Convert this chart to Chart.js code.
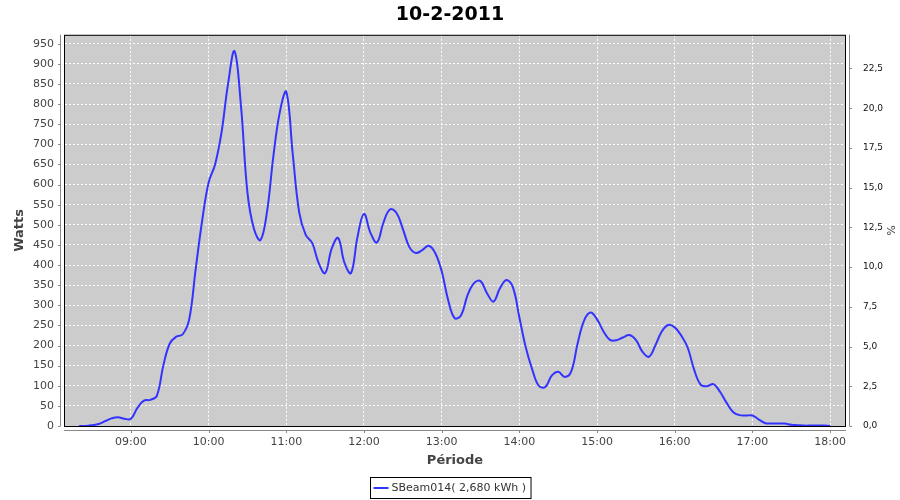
<!DOCTYPE html>
<html lang="fr">
<head>
    <meta charset="UTF-8">
    <title>10-2-2011</title>
    <script src="https://cdn.jsdelivr.net/npm/chart.js"></script>
    <style>
        html, body { margin: 0; padding: 0; background: #ffffff; }
        .chart-container { width: 900px; height: 500px; position: relative; }
    </style>
</head>
<body>
    <div class="chart-container">
        <canvas id="powerChart"></canvas>
    </div>

    <script>
        // minutes depuis minuit, toutes les 5 minutes de 08:20 a 18:00
        const minutes = [];
        for (let m = 500; m <= 1080; m += 5) minutes.push(m);

        const watts = [
            0, 0, 2, 5, 12, 19, 22, 18, 18, 45, 63, 65,
            75, 150, 205, 222, 228, 265, 390, 510, 605, 650, 730, 850,
            931, 795, 580, 490, 462, 530, 670, 780, 830, 675, 530, 475,
            455, 405, 380, 440, 467, 405, 380, 470, 527, 480, 456, 505,
            538, 530, 490, 445, 430, 437, 448, 430, 385, 313, 268, 275,
            325, 355, 360, 330, 309, 342, 363, 345, 270, 195, 140, 100,
            97, 125, 135, 122, 135, 205, 262, 282, 265, 235, 214, 213,
            220, 226, 214, 185, 172, 200, 235, 251, 245, 225, 195, 140,
            103, 99, 104, 85, 58, 35, 27, 26, 26, 16, 7, 6,
            6, 6, 3, 2, 1, 1, 1, 1, 0
        ];

        const hourTicks = [540, 600, 660, 720, 780, 840, 900, 960, 1020, 1080];
        const wattTicks = [0, 50, 100, 150, 200, 250, 300, 350, 400, 450, 500,
            550, 600, 650, 700, 750, 800, 850, 900, 950];
        const percentTicks = [0, 2.5, 5, 7.5, 10, 12.5, 15, 17.5, 20, 22.5];

        const seriesLabel = 'SBeam014( 2,680 kWh )';
        const chartTitle = '10-2-2011';
        const lineColor = '#3333ff';

        const points = minutes.map((m, i) => ({ x: m, y: watts[i] }));

        function hhmm(v) {
            const h = Math.floor(v / 60);
            const m = v % 60;
            return String(h).padStart(2, '0') + ':' + String(m).padStart(2, '0');
        }

        // fond gris, cadre noir, axes decales et legende encadree facon JFreeChart
        const plotFrame = {
            id: 'plotFrame',
            beforeDraw(chart) {
                const { ctx, chartArea: a } = chart;
                ctx.save();
                ctx.fillStyle = '#cccccc';
                ctx.fillRect(a.left, a.top, a.right - a.left, a.bottom - a.top);
                ctx.restore();
            },
            afterDraw(chart) {
                const { ctx, chartArea: a, scales } = chart;
                ctx.save();
                ctx.strokeStyle = '#000000';
                ctx.lineWidth = 1;
                ctx.strokeRect(a.left + 0.5, a.top + 0.5, a.right - a.left - 1, a.bottom - a.top);

                ctx.strokeStyle = '#888888';
                ctx.beginPath();
                ctx.moveTo(a.left - 3.5, a.top);
                ctx.lineTo(a.left - 3.5, a.bottom);
                scales.y.ticks.forEach(t => {
                    const py = Math.round(scales.y.getPixelForValue(t.value)) + 0.5;
                    ctx.moveTo(a.left - 6, py);
                    ctx.lineTo(a.left - 3.5, py);
                });
                ctx.moveTo(a.right + 3.5, a.top);
                ctx.lineTo(a.right + 3.5, a.bottom);
                scales.y2.ticks.forEach(t => {
                    const py = Math.round(scales.y2.getPixelForValue(t.value)) + 0.5;
                    ctx.moveTo(a.right + 3.5, py);
                    ctx.lineTo(a.right + 6, py);
                });
                ctx.moveTo(a.left, a.bottom + 4.5);
                ctx.lineTo(a.right, a.bottom + 4.5);
                scales.x.ticks.forEach(t => {
                    const px = Math.round(scales.x.getPixelForValue(t.value)) + 0.5;
                    ctx.moveTo(px, a.bottom + 4.5);
                    ctx.lineTo(px, a.bottom + 7);
                });
                ctx.stroke();

                // legende, centree sur la largeur du canvas
                const cx = chart.width / 2;
                const ly = 488;
                ctx.font = '11px "DejaVu Sans"';
                const tw = ctx.measureText(seriesLabel).width;
                const w = tw + 26;
                const x0 = Math.round(cx - w / 2) + 0.5;
                ctx.strokeStyle = '#000000';
                ctx.strokeRect(x0, 477.5, w, 21);
                ctx.strokeStyle = lineColor;
                ctx.lineWidth = 2;
                ctx.beginPath();
                ctx.moveTo(x0 + 3, ly);
                ctx.lineTo(x0 + 18, ly);
                ctx.stroke();
                ctx.fillStyle = '#333333';
                ctx.textBaseline = 'middle';
                ctx.fillText(seriesLabel, x0 + 21, ly);
                ctx.restore();
            }
        };

        const gridStyle = {
            color: '#ffffff',
            lineWidth: 1,
            drawTicks: false
        };
        const dashedBorder = { display: true, color: 'rgba(0,0,0,0)', dash: [2, 2] };

        window.addEventListener('load', () => {
            new Chart(document.getElementById('powerChart'), {
                type: 'line',
                data: {
                    datasets: [{
                        label: seriesLabel,
                        data: points,
                        borderColor: lineColor,
                        backgroundColor: lineColor,
                        borderWidth: 2,
                        pointRadius: 0,
                        tension: 0.4,
                        fill: false,
                        yAxisID: 'y'
                    }]
                },
                options: {
                    responsive: true,
                    maintainAspectRatio: false,
                    animation: false,
                    layout: { padding: { top: 0, right: 0, bottom: 26, left: 0 } },
                    plugins: {
                        tooltip: { enabled: false },
                        legend: { display: false },
                        title: {
                            display: true,
                            text: chartTitle,
                            color: '#000000',
                            font: { family: 'DejaVu Sans', size: 19, weight: 'bold' },
                            padding: { top: 4, bottom: 8 }
                        }
                    },
                    scales: {
                        x: {
                            type: 'linear',
                            min: 488.3,
                            max: 1092.3,
                            afterBuildTicks: s => { s.ticks = hourTicks.map(v => ({ value: v })); },
                            afterFit: s => { s.height = 48; },
                            grid: { ...gridStyle },
                            border: { ...dashedBorder },
                            ticks: {
                                color: '#444444',
                                font: { family: 'DejaVu Sans', size: 11 },
                                padding: 10,
                                maxRotation: 0,
                                callback: v => hhmm(v)
                            },
                            title: {
                                display: true,
                                text: 'Période',
                                color: '#444444',
                                font: { family: 'DejaVu Sans', size: 13, weight: 'bold' },
                                padding: { top: 3, bottom: 6 }
                            }
                        },
                        y: {
                            position: 'left',
                            min: 0,
                            max: 972,
                            afterBuildTicks: s => { s.ticks = wattTicks.map(v => ({ value: v })); },
                            afterFit: s => { s.width = 64; },
                            grid: { ...gridStyle },
                            border: { ...dashedBorder },
                            ticks: {
                                color: '#444444',
                                font: { family: 'DejaVu Sans', size: 11 },
                                padding: 10
                            },
                            title: {
                                display: true,
                                text: 'Watts',
                                color: '#444444',
                                font: { family: 'DejaVu Sans', size: 13, weight: 'bold' },
                                padding: { top: 12, bottom: 0 }
                            }
                        },
                        y2: {
                            position: 'right',
                            min: 0,
                            max: 24.62,
                            afterBuildTicks: s => { s.ticks = percentTicks.map(v => ({ value: v })); },
                            afterFit: s => { s.width = 54; },
                            grid: { display: false },
                            border: { display: false },
                            ticks: {
                                color: '#111111',
                                font: { family: 'DejaVu Sans', size: 9 },
                                padding: 9,
                                callback: v => v.toFixed(1).replace('.', ',')
                            },
                            title: {
                                display: true,
                                text: '%',
                                color: '#444444',
                                font: { family: 'DejaVu Sans', size: 11 },
                                padding: { top: 4, bottom: 0 }
                            }
                        }
                    }
                },
                plugins: [plotFrame]
            });
        });
    </script>
</body>
</html>
